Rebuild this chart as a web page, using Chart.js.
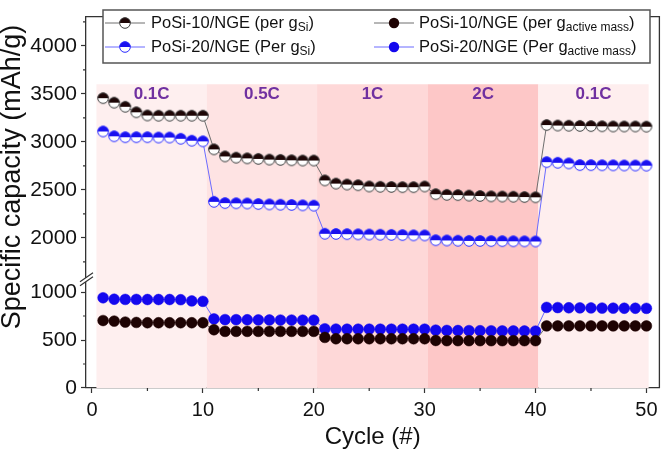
<!DOCTYPE html>
<html><head><meta charset="utf-8">
<script src="https://cdn.jsdelivr.net/npm/chart.js@4.4.0/dist/chart.umd.min.js"></script>
<style>html,body{margin:0;padding:0;background:#fff}#wrap{width:666px;height:456px;position:relative}</style>
</head><body><div id="wrap"><canvas id="c" width="666" height="456"></canvas></div>
<script>
const cycles = [1,2,3,4,5,6,7,8,9,10,11,12,13,14,15,16,17,18,19,20,21,22,23,24,25,26,27,28,29,30,31,32,33,34,35,36,37,38,39,40,41,42,43,44,45,46,47,48,49,50];
const posi10PerSi = [3455,3408,3365,3308,3275,3272,3272,3272,3272,3272, 2922,2848,2835,2828,2822,2815,2812,2808,2805,2805, 2598,2565,2555,2548,2535,2532,2530,2528,2528,2535, 2455,2448,2445,2440,2436,2432,2430,2428,2425,2422, 3175,3170,3168,3166,3164,3162,3160,3160,3160,3158];
const posi20PerSi = [3108,3058,3048,3048,3048,3045,3045,3032,3012,3005, 2375,2362,2360,2358,2352,2348,2345,2342,2338,2335, 2042,2040,2038,2036,2034,2032,2030,2028,2026,2025, 1975,1972,1970,1968,1967,1966,1965,1964,1963,1962, 2788,2782,2775,2758,2757,2756,2755,2754,2753,2752];
const posi10PerActive = [703,697,687,683,680,680,680,680,680,680, 607,590,590,590,590,590,590,590,590,590, 527,513,513,513,513,513,513,513,513,513, 495,493,493,493,493,493,493,493,493,493, 647,647,647,647,647,647,647,647,647,647];
const posi20PerActive = [940,925,923,923,922,922,922,920,907,903, 720,713,712,711,710,709,708,708,707,707, 617,614,613,613,613,613,613,613,613,613, 603,600,599,598,597,596,595,595,594,593, 840,838,836,835,834,833,832,831,831,830];
const rateLabels = ['0.1C','0.5C','1C','2C','0.1C'];
const rateEdges = [0.4,10.35,20.3,30.3,40.25,50.2];
const xTicks = [0,10,20,30,40,50];
const xMinorTicks = [5,15,25,35,45];
const yLowTicks = [0,500,1000];
const yLowMinor = [250,750];
const yHighTicks = [2000,2500,3000,3500,4000];
const yHighMinor = [1750,2250,2750,3250,3750,4250];
const seriesNames = ['PoSi-10/NGE (per g','PoSi-10/NGE (per g','PoSi-20/NGE (Per g','PoSi-20/NGE (Per g'];
const seriesSubs = ['Si','active mass','Si','active mass'];

const FONT = '"Liberation Sans", Arial, sans-serif';
const bandColors = ['#feefef','#fee3e3','#fed8d8','#fdc7c7','#feeeee'];

function halfDot(fill, stroke, r) {
  const s = Math.ceil(2*r+2);
  const c = document.createElement('canvas'); c.width = s; c.height = s;
  const g = c.getContext('2d'); const cx = s/2, cy = s/2;
  g.beginPath(); g.arc(cx,cy,r,0,2*Math.PI); g.fillStyle='#fff'; g.fill();
  g.beginPath(); g.arc(cx,cy,r,Math.PI,2*Math.PI); g.closePath(); g.fillStyle=fill; g.fill();
  g.beginPath(); g.arc(cx,cy,r-0.3,0,2*Math.PI); g.lineWidth=1; g.strokeStyle=stroke; g.stroke();
  return c;
}
const halfBlack = halfDot('#1e0606','#3a3a3a',5.6);
const halfBlue = halfDot('#1a10ee','#2a2aff',5.6);

const mk = a => cycles.map((c,i)=>({x:c, y:a[i]}));

const datasets = [
  {data: mk(posi10PerSi), yAxisID:'yTop', borderColor:'#6e6e6e', borderWidth:1, pointStyle:halfBlack, pointRadius:5.6},
  {data: mk(posi20PerSi), yAxisID:'yTop', borderColor:'#6b6bff', borderWidth:1, pointStyle:halfBlue, pointRadius:5.6},
  {data: mk(posi10PerActive), yAxisID:'yBot', borderColor:'#6e6e6e', borderWidth:1, pointStyle:'circle', pointRadius:5.4, pointBackgroundColor:'#1e0303', pointBorderColor:'#1e0303', pointBorderWidth:0.5},
  {data: mk(posi20PerActive), yAxisID:'yBot', borderColor:'#6b6bff', borderWidth:1, pointStyle:'circle', pointRadius:5.4, pointBackgroundColor:'#1408ee', pointBorderColor:'#1408ee', pointBorderWidth:0.5}
];

const setTicks = arr => (s) => { s.ticks = arr.map(v=>({value:v})); };

const decor = {
  id:'decor',
  beforeDatasetsDraw(chart) {
    const {ctx, chartArea:a, scales} = chart;
    const x = scales.x, yt = scales.yTop;
    const top = yt.getPixelForValue(3600);
    ctx.save();
    for (let i=0;i<rateLabels.length;i++) {
      const x0 = x.getPixelForValue(rateEdges[i]), x1 = x.getPixelForValue(rateEdges[i+1]);
      ctx.fillStyle = bandColors[i];
      ctx.fillRect(x0, top, x1-x0, a.bottom-top);
    }
    ctx.fillStyle = '#7030a0';
    ctx.font = 'bold 17px ' + FONT;
    ctx.textAlign='center'; ctx.textBaseline='middle';
    for (let i=0;i<rateLabels.length;i++) {
      const xc = x.getPixelForValue((rateEdges[i]+rateEdges[i+1])/2);
      ctx.fillText(rateLabels[i], xc, yt.getPixelForValue(3500));
    }
    ctx.restore();
  },
  afterDraw(chart) {
    const {ctx, chartArea:a, scales} = chart;
    ctx.save();
    ctx.strokeStyle = '#333'; ctx.lineWidth = 1.3;
    ctx.beginPath(); ctx.moveTo(a.left, a.top); ctx.lineTo(a.right, a.top); ctx.lineTo(a.right, a.bottom); ctx.stroke();
    ctx.lineWidth = 1.2;
    ctx.beginPath();
    for (const v of xMinorTicks) { const px = scales.x.getPixelForValue(v); ctx.moveTo(px, a.bottom); ctx.lineTo(px, a.bottom+3); }
    for (const v of yLowMinor) { const py = scales.yBot.getPixelForValue(v); ctx.moveTo(a.left, py); ctx.lineTo(a.left-3, py); }
    for (const v of yHighMinor) { const py = scales.yTop.getPixelForValue(v); ctx.moveTo(a.left, py); ctx.lineTo(a.left-3, py); }
    ctx.stroke();
    const by = scales.yBot.top;
    ctx.fillStyle = '#fff';
    ctx.beginPath(); ctx.moveTo(a.left-6, by+4); ctx.lineTo(a.left+7, by-5); ctx.lineTo(a.left+7, by-1); ctx.lineTo(a.left-6, by+8); ctx.closePath(); ctx.fill();
    ctx.strokeStyle = '#333'; ctx.lineWidth = 1.2;
    ctx.beginPath();
    ctx.moveTo(a.left-6, by+4); ctx.lineTo(a.left+7, by-5);
    ctx.moveTo(a.left-6, by+8); ctx.lineTo(a.left+7, by-1);
    ctx.stroke();
    ctx.fillStyle = '#111';
    ctx.textAlign = 'center'; ctx.textBaseline = 'middle';
    ctx.font = '24px ' + FONT;
    ctx.fillText('Cycle (#)', (a.left+a.right)/2, 437);
    ctx.save();
    ctx.translate(13, 177); ctx.rotate(-Math.PI/2);
    ctx.font = '27px ' + FONT;
    ctx.fillText('Specific capacity (mAh/g)', 0, 0);
    ctx.restore();
    const L = 103, R = 650, T = 10, B = 63;
    ctx.fillStyle = '#fff'; ctx.fillRect(L, T, R-L, B-T);
    ctx.strokeStyle = '#555'; ctx.lineWidth = 1.5; ctx.strokeRect(L, T, R-L, B-T);
    const cols = [[105,145,125,151],[374,414,394,419]];
    const rows = [23, 47];
    const ds = chart.data.datasets;
    const entries = [[0,0],[0,1],[1,0],[1,1]];
    for (let k=0;k<4;k++) {
      const [r, cIdx] = entries[k];
      const dIdx = [0,2,1,3][k];
      const d = ds[dIdx];
      const [l0,l1,mx,tx] = cols[cIdx];
      const y = rows[r];
      ctx.strokeStyle = d.borderColor; ctx.lineWidth = 1;
      ctx.beginPath(); ctx.moveTo(l0, y); ctx.lineTo(l1, y); ctx.stroke();
      if (typeof d.pointStyle !== 'string') {
        ctx.drawImage(d.pointStyle, mx - d.pointStyle.width/2, y - d.pointStyle.height/2);
      } else {
        ctx.beginPath(); ctx.arc(mx, y, 5.2, 0, 2*Math.PI); ctx.fillStyle = d.pointBackgroundColor; ctx.fill();
      }
      ctx.fillStyle = '#111'; ctx.textAlign='left'; ctx.textBaseline='middle';
      ctx.font = '16.5px ' + FONT;
      const main = seriesNames[k];
      ctx.fillText(main, tx, y);
      let w = ctx.measureText(main).width;
      ctx.font = '12px ' + FONT;
      ctx.fillText(seriesSubs[k], tx+w, y+5);
      w += ctx.measureText(seriesSubs[k]).width;
      ctx.font = '16.5px ' + FONT;
      ctx.fillText(')', tx+w, y);
    }
    ctx.restore();
  }
};

const tickFont = {family: FONT, size: 21};
new Chart(document.getElementById('c'), {
  type: 'line',
  data: {datasets},
  plugins: [decor],
  options: {
    responsive: false, animation: false, devicePixelRatio: 1,
    layout: {padding: {top: 1, right: 4, left: 0, bottom: 0}},
    plugins: {legend: {display: false}, tooltip: {enabled: false}},
    elements: {line: {tension: 0}},
    scales: {
      x: {
        type: 'linear', min: -0.54, max: 51.17,
        afterBuildTicks: setTicks(xTicks),
        afterFit: s => { s.height = 68; },
        grid: {drawOnChartArea: false, drawTicks: true, tickLength: 5, tickColor: '#333', tickWidth: 1.2},
        border: {display: true, color: '#333', width: 1.3},
        ticks: {font: {family: FONT, size: 20}, color: '#111', padding: 5, maxRotation: 0, callback: v => String(v)}
      },
      yBot: {
        type: 'linear', position: 'left', stack: 'ys', stackWeight: 1150,
        min: 0, max: 1150,
        afterBuildTicks: setTicks(yLowTicks),
        afterFit: s => { s.width = 86; },
        grid: {drawOnChartArea: false, drawTicks: true, tickLength: 5, tickColor: '#333', tickWidth: 1.2},
        border: {display: true, color: '#333', width: 1.3},
        ticks: {font: tickFont, color: '#111', padding: 4, callback: v => String(v)}
      },
      yTop: {
        type: 'linear', position: 'left', stack: 'ys', stackWeight: 2720,
        min: 1585, max: 4305,
        afterBuildTicks: setTicks(yHighTicks),
        afterFit: s => { s.width = 86; },
        grid: {drawOnChartArea: false, drawTicks: true, tickLength: 5, tickColor: '#333', tickWidth: 1.2},
        border: {display: true, color: '#333', width: 1.3},
        ticks: {font: tickFont, color: '#111', padding: 4, callback: v => String(v)}
      }
    }
  }
});
</script>
</body></html>
